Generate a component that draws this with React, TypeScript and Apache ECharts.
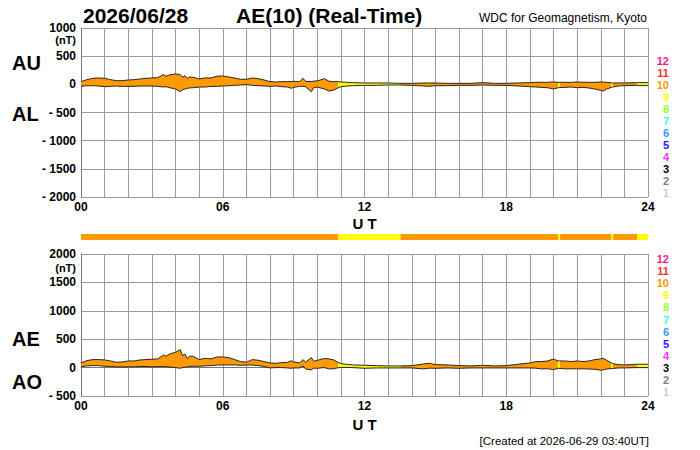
import { useEffect, useRef } from "react";
import * as echarts from "echarts";

// UT hours of the readings
const hours = [
  0, 0.25, 0.5, 0.75, 1, 1.25, 1.5, 1.75, 2, 2.25,
  2.5, 2.75, 3, 3.25, 3.5, 3.6, 3.75, 4, 4.2, 4.3,
  4.4, 4.5, 4.6, 4.75, 5, 5.25, 5.5, 5.75, 6, 6.25,
  6.5, 6.75, 7, 7.25, 7.5, 7.75, 8, 8.25, 8.5, 8.75,
  8.9, 9, 9.25, 9.4, 9.5, 9.75, 9.85, 10, 10.3, 10.5,
  10.7, 10.85, 11, 11.25, 11.5, 12, 12.5, 13, 13.5, 14,
  14.5, 14.75, 15, 15.5, 16, 16.5, 17, 17.5, 18, 18.5,
  19, 19.25, 19.5, 19.75, 20, 20.2, 20.5, 20.75, 21, 21.25,
  21.5, 21.75, 22, 22.1, 22.25, 22.5, 22.75, 23, 23.5, 24,
];

const AU = [
  48, 83, 107, 113, 107, 83, 65, 65, 77, 83,
  95, 107, 113, 119, 173, 143, 167, 184, 173, 125,
  155, 107, 131, 125, 95, 113, 113, 143, 149, 131,
  113, 90, 90, 113, 101, 77, 48, 42, 48, 48,
  50, 54, 48, 107, 54, 48, 57, 60, 101, 54,
  48, 48, 42, 36, 30, 24, 24, 24, 18, 18,
  24, 24, 24, 18, 18, 18, 30, 18, 18, 24,
  30, 36, 36, 36, 42, 36, 36, 36, 42, 36,
  36, 36, 42, 40, 36, 24, 24, 24, 30, 30,
];

const AL = [
  -36, -24, -24, -30, -42, -36, -30, -36, -36, -36,
  -30, -30, -30, -36, -48, -42, -60, -83, -131, -95,
  -83, -71, -65, -60, -48, -48, -36, -36, -30, -24,
  -18, -12, -5, -18, -24, -30, -36, -30, -42, -48,
  -71, -54, -36, -36, -42, -131, -60, -48, -83, -119,
  -101, -71, -42, -30, -24, -18, -18, -12, -12, -18,
  -30, -36, -24, -24, -18, -18, -12, -18, -18, -30,
  -42, -48, -54, -60, -83, -60, -54, -48, -60, -54,
  -65, -83, -107, -119, -83, -48, -30, -24, -18, -24,
];

const AE = [
  82, 123, 141, 141, 135, 117, 94, 100, 117, 117,
  135, 141, 147, 153, 223, 200, 240, 270, 317, 211,
  240, 164, 200, 200, 141, 164, 153, 188, 188, 176,
  141, 106, 94, 141, 129, 106, 82, 76, 88, 94,
  120, 100, 82, 141, 94, 176, 110, 129, 160, 153,
  135, 100, 70, 58, 47, 41, 35, 29, 29, 35,
  64, 76, 53, 47, 35, 30, 41, 29, 35, 59,
  82, 106, 106, 117, 150, 117, 117, 106, 117, 106,
  117, 141, 153, 165, 129, 70, 53, 47, 59, 59,
];

const AO = [
  18, 30, 35, 35, 23, 20, 12, 12, 12, 15,
  18, 20, 12, 18, 18, 15, 10, 0, -12, 0,
  5, 18, 20, 23, 23, 30, 35, 45, 47, 47,
  47, 40, 45, 45, 35, 20, -6, 0, 0, -6,
  -12, -6, -6, 30, -23, -41, -10, -12, 0, -23,
  -20, -5, 3, 3, 0, -12, -6, -6, -6, -6,
  -23, -10, -12, -6, -12, -6, -6, -6, -6, -6,
  -6, -10, -23, -20, -35, -12, -23, -20, -23, -20,
  -25, -30, -47, -40, -25, -15, -6, -6, 0, 0,
];

// [start hour, end hour, number of stations]
const stationSegments: [number, number, number][] = [
  [0, 10.89, 10],
  [10.89, 13.53, 9],
  [13.53, 20.2, 10],
  [20.2, 20.28, 9],
  [20.28, 22.45, 10],
  [22.45, 22.53, 9],
  [22.53, 23.55, 10],
  [23.55, 24, 9],
];

const levelNumbers = [12, 11, 10, 9, 8, 7, 6, 5, 4, 3, 2, 1];
const levelColors = [
  "#ff1a8c", "#ff3322", "#ff9900", "#ffff00", "#99ff33", "#33ffcc",
  "#3399ff", "#3311ff", "#ff33ff", "#000000", "#808080", "#cccccc",
];

const xTickLabels = ["00", "06", "12", "18", "24"];
const FONT = '"Liberation Sans", Arial, Helvetica, sans-serif';

const colorOf = (n: number) => levelColors[levelNumbers.indexOf(n)] || "#ff9900";

export default function App() {
  const ref = useRef<HTMLDivElement>(null);
  useEffect(() => {
    if (!ref.current) return;
    const chart = echarts.init(ref.current, undefined, { renderer: "svg" });

    const xAxisCommon = (gridIndex: number, nameGap: number) => ({
      type: "value" as const,
      gridIndex,
      min: 0,
      max: 24,
      interval: 1,
      name: "U T",
      nameLocation: "middle" as const,
      nameGap,
      nameTextStyle: { fontFamily: FONT, fontWeight: "bold", fontSize: 15, color: "#000" },
      axisLine: { show: true, lineStyle: { color: "#777", width: 1 } },
      axisTick: { show: false },
      splitLine: { show: true, lineStyle: { color: "#9a9a9a", width: 1 } },
      axisLabel: {
        margin: 4,
        fontFamily: FONT,
        fontWeight: "bold",
        fontSize: 12,
        lineHeight: 12,
        color: "#000",
        formatter: (v: number) => (v % 6 === 0 ? xTickLabels[v / 6] : ""),
      },
    });
    const yFmt = (v: number) => (v < 0 ? "- " + Math.abs(v) : String(v));
    const yAxisCommon = (gridIndex: number, min: number, max: number) => ({
      type: "value" as const,
      gridIndex,
      min,
      max,
      interval: 500,
      axisLine: { show: true, lineStyle: { color: "#777", width: 1 } },
      axisTick: { show: false },
      splitLine: { show: true, lineStyle: { color: "#9a9a9a", width: 1 } },
      axisLabel: {
        margin: 5,
        fontFamily: FONT,
        fontWeight: "bold",
        fontSize: 12,
        lineHeight: 11,
        color: "#000",
        formatter: yFmt,
      },
    });

    const pair = (vals: number[]) => hours.map((h, i) => [h, vals[i]]);
    const lineSeries = (axis: number, vals: number[]) => ({
      type: "line" as const,
      xAxisIndex: axis,
      yAxisIndex: axis,
      showSymbol: false,
      symbol: "none",
      silent: true,
      z: 4,
      lineStyle: { color: "#262626", width: 1 },
      data: pair(vals),
    });

    // band between upper and lower series, coloured by number of stations
    const bandSeries = (axis: number, up: number[], lo: number[]) => ({
      type: "custom" as const,
      xAxisIndex: axis,
      yAxisIndex: axis,
      silent: true,
      z: 2,
      encode: { x: 0, y: [1, 2] },
      data: hours.map((h, i) => [h, up[i], lo[i]]),
      renderItem: (params: any, api: any) => {
        if (params.dataIndex !== 0) return { type: "group", children: [] };
        const upper = hours.map((h, i) => api.coord([h, up[i]]));
        const lower = hours.map((h, i) => api.coord([h, lo[i]])).reverse();
        const x0 = api.coord([0, 0])[0];
        const x1 = api.coord([24, 0])[0];
        const stops: { offset: number; color: string }[] = [];
        stationSegments.forEach(([a, b, n]) => {
          const c = colorOf(n);
          stops.push({ offset: (api.coord([a, 0])[0] - x0) / (x1 - x0), color: c });
          stops.push({ offset: (api.coord([b, 0])[0] - x0) / (x1 - x0), color: c });
        });
        return {
          type: "polygon",
          shape: { points: upper.concat(lower) },
          style: {
            fill: new echarts.graphic.LinearGradient(x0, 0, x1, 0, stops, true),
            stroke: null,
          },
        };
      },
    });

    const textEl = (
      text: string, x: number, y: number, size: number, weight: string,
      align: string = "left", fill: string = "#000", lh: number = size
    ) => ({
      type: "text",
      x,
      y,
      silent: true,
      style: {
        text,
        fontSize: size,
        fontWeight: weight,
        fontFamily: FONT,
        lineHeight: lh,
        fill,
        align,
        verticalAlign: "middle",
      },
    });

    const legendTop = levelNumbers.map((n, i) =>
      textEl(String(n), 669, 61 + 12 * i, 11, "bold", "right", levelColors[i], 10)
    );
    const legendBottom = levelNumbers.map((n, i) =>
      textEl(String(n), 669, 259 + 12.1 * i, 11, "bold", "right", levelColors[i], 10)
    );

    chart.setOption({
      animation: false,
      backgroundColor: "#fff",
      grid: [
        { left: 81, top: 28, width: 567, height: 169 },
        { left: 81, top: 254, width: 567, height: 142 },
        { left: 81, top: 234, width: 567, height: 6 },
      ],
      xAxis: [
        xAxisCommon(0, 19),
        xAxisCommon(1, 21),
        { type: "value", gridIndex: 2, min: 0, max: 24, show: false },
      ],
      yAxis: [
        yAxisCommon(0, -2000, 1000),
        yAxisCommon(1, -500, 2000),
        { type: "value", gridIndex: 2, min: 0, max: 1, show: false },
      ],
      series: [
        bandSeries(0, AU, AL),
        lineSeries(0, AU),
        lineSeries(0, AL),
        bandSeries(1, AE, AO),
        lineSeries(1, AE),
        lineSeries(1, AO),
        {
          type: "custom",
          xAxisIndex: 2,
          yAxisIndex: 2,
          silent: true,
          encode: { x: [0, 1], y: 2 },
          data: stationSegments.map((s) => [s[0], s[1], s[2]]),
          renderItem: (_params: any, api: any) => {
            const p0 = api.coord([api.value(0), 1]);
            const p1 = api.coord([api.value(1), 0]);
            return {
              type: "rect",
              shape: { x: p0[0], y: p0[1], width: p1[0] - p0[0], height: p1[1] - p0[1] },
              style: { fill: colorOf(api.value(2)), stroke: null },
            };
          },
        },
      ],
      graphic: [
        textEl("2026/06/28", 83, 15, 21, "bold"),
        textEl("AE(10) (Real-Time)", 236, 15, 21, "bold"),
        textEl("WDC for Geomagnetism, Kyoto", 647, 17.5, 12, "normal", "right"),
        textEl("AU", 12, 63, 20, "bold"),
        textEl("AL", 12, 114, 20, "bold"),
        textEl("AE", 12, 339, 20, "bold"),
        textEl("AO", 12, 382, 20, "bold"),
        textEl("(nT)", 76, 40, 11, "bold", "right", "#000", 10),
        textEl("(nT)", 76, 268, 11, "bold", "right", "#000", 10),
        textEl("[Created at 2026-06-29 03:40UT]", 649, 440.5, 11.5, "normal", "right"),
        ...legendTop,
        ...legendBottom,
      ],
    });

    return () => chart.dispose();
  }, []);

  return (
    <div
      ref={ref}
      style={{ position: "fixed", left: 0, top: 0, width: 700, height: 450, background: "#fff" }}
    />
  );
}
